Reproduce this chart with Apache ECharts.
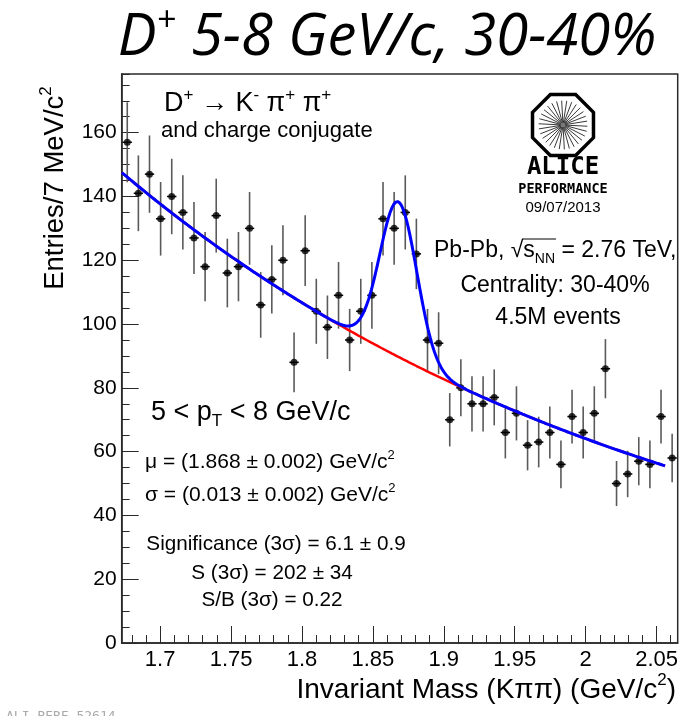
<!DOCTYPE html>
<html>
<head>
<meta charset="utf-8">
<script src="https://cdn.jsdelivr.net/npm/echarts@6/dist/echarts.min.js"></script>
<style>
  html, body { margin: 0; padding: 0; background: #fff; }
  #chart { width: 692px; height: 716px; }
</style>
</head>
<body>
<div id="chart"></div>
<script>
// ---- Histogram: Kpipi invariant mass, 50 bins ----
const histMin = 1.6729;
const histMax = 2.0649;
const binWidth = 0.00784;
const entries = [
  157, 141, 147, 133, 140, 135, 127, 118, 134, 116,
  118, 130, 106, 114, 120,  88, 123, 104,  99, 109,
   95, 104, 109, 133, 130, 135, 122,  95,  94,  70,
   80,  75,  75,  77,  66,  72,  62,  63,  66,  56,
   71,  66,  72,  86,  50,  53,  57,  56,  71,  58
];

// ---- Axis ticks ----
const xTickLabels = [1.7, 1.75, 1.8, 1.85, 1.9, 1.95, 2, 2.05];
const yTickLabels = [0, 20, 40, 60, 80, 100, 120, 140, 160];
const yMax = 178.4;

// ---- Fit: exponential background + Gaussian signal ----
const fitRange = [1.673, 2.056];
const bkgNorm = 147.5;      // background at fitRange[0]
const bkgSlope = -2.55;     // per GeV/c^2
const peakMean = 1.868;     // mu
const peakSigma = 0.013;    // sigma
const signalYield = 202;    // S

// bin centres and Poisson error bars
const centers = entries.map((_, i) => histMin + (i + 0.5) * binWidth);
const points = entries.map((n, i) => [centers[i], n]);
const errBars = entries.map((n, i) => [centers[i], n - Math.sqrt(n), n + Math.sqrt(n)]);

// fit functions evaluated along the fit range
function background(m) { return bkgNorm * Math.exp(bkgSlope * (m - fitRange[0])); }
function signal(m) {
  const amp = signalYield * binWidth / (peakSigma * Math.sqrt(2 * Math.PI));
  const z = (m - peakMean) / peakSigma;
  return amp * Math.exp(-0.5 * z * z);
}
const fitStep = 0.0005;
const totalCurve = [], bkgCurve = [];
for (let m = fitRange[0]; m <= fitRange[1] + 1e-9; m += fitStep) {
  bkgCurve.push([m, background(m)]);
  totalCurve.push([m, background(m) + signal(m)]);
}

const SANS = '"Liberation Sans", Arial, Helvetica, sans-serif';
const frameColor = '#2a2a2a';

// text width helper for placing the radical's overline
const measureCtx = document.createElement('canvas').getContext('2d');
function textWidth(str, size) {
  measureCtx.font = size + 'px ' + SANS;
  return measureCtx.measureText(str).width;
}

function txt(x, y, text, size, opts) {
  opts = opts || {};
  return {
    type: 'text',
    x: x, y: y,
    rotation: opts.rotation || 0,
    z: 100,
    style: {
      text: text,
      fill: opts.color || '#000',
      font: (opts.style || 'normal') + ' ' + (opts.weight || 'normal') + ' ' + size + 'px ' + (opts.family || SANS),
      align: opts.align || 'left',
      verticalAlign: 'middle',
      lineHeight: opts.lineHeight || Math.round(size * 1.25),
      rich: opts.rich || {}
    }
  };
}
function scripts(size, family) {
  const s = Math.round(size * 0.62);
  return {
    sup: { fontSize: s, fontFamily: family || SANS, verticalAlign: 'top', lineHeight: s + 1 },
    sub: { fontSize: s, fontFamily: family || SANS, verticalAlign: 'bottom', lineHeight: s + 1 }
  };
}

// ALICE logo: octagon with radial spokes
function aliceLogo(cx, cy, r) {
  const children = [];
  const oct = [];
  for (let k = 0; k < 8; k++) {
    const a = Math.PI / 8 + k * Math.PI / 4;
    oct.push([cx + r * Math.cos(a), cy + r * Math.sin(a)]);
  }
  children.push({ type: 'polygon', shape: { points: oct }, style: { fill: '#fff', stroke: '#000', lineWidth: 3.5 } });
  const spokes = 30;
  for (let k = 0; k < spokes; k++) {
    const a = k * 2 * Math.PI / spokes + 0.05;
    children.push({
      type: 'line',
      shape: { x1: cx + 2 * Math.cos(a), y1: cy + 2 * Math.sin(a), x2: cx + r * 0.74 * Math.cos(a), y2: cy + r * 0.74 * Math.sin(a) },
      style: { stroke: '#222', lineWidth: 0.9 }
    });
  }
  children.push({ type: 'circle', shape: { cx: cx, cy: cy, r: 2.5 }, style: { fill: '#777' } });
  return { type: 'group', z: 100, children: children };
}

// collision-system line with an overline on the square root
const sysSize = 23, sysSub = Math.round(sysSize * 0.62);
const sysLeft = 434, sysY = 251;
const barStart = sysLeft + textWidth('Pb-Pb, √', sysSize) - 1;
const barEnd = barStart + 1 + textWidth('s', sysSize) + textWidth('NN', sysSub) + 1;

const chart = echarts.init(document.getElementById('chart'));

const graphics = [
  // title
  txt(387, 38, 'D{sup|+} 5-8 GeV/c, 30-40%', 58, {
    align: 'center', style: 'italic', family: '"Open Sans", sans-serif', lineHeight: 68,
    rich: {
      sup: { fontSize: 34, fontStyle: 'italic', fontFamily: '"Open Sans", sans-serif', verticalAlign: 'top', lineHeight: 36 }
    }
  }),
  // axis titles
  txt(55, 188, 'Entries/7 MeV/c{sup|2}', 27.5, { align: 'center', rotation: Math.PI / 2, rich: scripts(27.5), lineHeight: 35 }),
  txt(676, 690, 'Invariant Mass (Kππ) (GeV/c{sup|2})', 28, { align: 'right', rich: scripts(28), lineHeight: 36 }),
  // decay channel
  txt(164, 104, 'D{sup|+} → K{sup|-} π{sup|+} π{sup|+}', 27, { rich: scripts(27), lineHeight: 34 }),
  txt(161, 131, 'and charge conjugate', 22),
  // collision info
  aliceLogo(563, 125, 33),
  txt(563, 168, 'ALICE', 24, { align: 'center', weight: 'bold', family: '"DejaVu Sans Mono", monospace' }),
  txt(563, 189, 'PERFORMANCE', 13.5, { align: 'center', weight: 'bold', family: '"DejaVu Sans Mono", monospace' }),
  txt(563, 208, '09/07/2013', 15, { align: 'center' }),
  txt(sysLeft, sysY, 'Pb-Pb, √s{sub|NN} = 2.76 TeV,', sysSize, { rich: scripts(sysSize), lineHeight: 30 }),
  { type: 'line', z: 100, shape: { x1: barStart, y1: sysY - 12, x2: barEnd, y2: sysY - 12 }, style: { stroke: '#000', lineWidth: 1 } },
  txt(555, 286, 'Centrality: 30-40%', 23, { align: 'center' }),
  txt(558, 318, '4.5M events', 23, { align: 'center' }),
  // fit results
  txt(151, 413, '5 < p{sub|T} < 8 GeV/c', 27, { rich: scripts(27), lineHeight: 34 }),
  txt(145, 462, 'μ = (1.868 ± 0.002) GeV/c{sup|2}', 21, { rich: scripts(21), lineHeight: 27 }),
  txt(145, 495, 'σ = (0.013 ± 0.002) GeV/c{sup|2}', 21, { rich: scripts(21), lineHeight: 27 }),
  txt(276, 544, 'Significance (3σ) = 6.1 ± 0.9', 20.7, { align: 'center' }),
  txt(272, 573, 'S (3σ) = 202 ± 34', 20.7, { align: 'center' }),
  txt(272, 600, 'S/B (3σ) = 0.22', 20.7, { align: 'center' }),
  // figure id at the bottom edge
  txt(6, 717, 'ALI-PERF-52614', 13, { color: '#aaa', family: '"DejaVu Sans Mono", monospace' })
];

const gridBox = { left: 121.7, right: 14.3, top: 74, bottom: 73 };

chart.setOption({
  animation: false,
  backgroundColor: '#fff',
  grid: Object.assign({ show: true, borderColor: frameColor, borderWidth: 1.5, backgroundColor: 'transparent', containLabel: false, outerBoundsMode: 'none' }, gridBox),
  xAxis: [
    {
      type: 'value', min: histMin, max: histMax, minInterval: 0.05, maxInterval: 0.05, splitNumber: 8,
      position: 'bottom',
      axisLine: { show: true, onZero: false, lineStyle: { color: frameColor, width: 1.5 } },
      axisTick: { show: true, inside: true, length: 17, lineStyle: { color: frameColor, width: 1 } },
      axisLabel: {
        show: true, margin: 6, color: '#000', fontSize: 22, fontFamily: SANS,
        showMinLabel: false, showMaxLabel: false,
        formatter: v => xTickLabels.some(t => Math.abs(t - v) < 1e-6) ? String(+v.toFixed(3)) : ''
      },
      splitLine: { show: false }
    },
    {
      type: 'value', min: histMin, max: histMax, minInterval: 0.01, maxInterval: 0.01, splitNumber: 40,
      position: 'bottom',
      axisLine: { show: false },
      axisTick: { show: true, inside: true, length: 8, lineStyle: { color: frameColor, width: 1 } },
      axisLabel: { show: false },
      splitLine: { show: false }
    }
  ],
  yAxis: [
    {
      type: 'value', min: 0, max: yMax, interval: 20,
      position: 'left',
      axisLine: { show: true, onZero: false, lineStyle: { color: frameColor, width: 1.5 } },
      axisTick: { show: true, inside: true, length: 17, lineStyle: { color: frameColor, width: 1 } },
      axisLabel: {
        show: true, margin: 5, color: '#000', fontSize: 21, fontFamily: SANS,
        showMaxLabel: false,
        formatter: v => yTickLabels.indexOf(Math.round(v)) >= 0 && Math.abs(v - Math.round(v)) < 1e-6 ? String(Math.round(v)) : ''
      },
      splitLine: { show: false }
    },
    {
      type: 'value', min: 0, max: yMax, interval: 5,
      position: 'left',
      axisLine: { show: false },
      axisTick: { show: true, inside: true, length: 8, lineStyle: { color: frameColor, width: 1 } },
      axisLabel: { show: false },
      splitLine: { show: false }
    }
  ],
  series: [
    {
      name: 'errors', type: 'custom', data: errBars, z: 2,
      renderItem: function (params, api) {
        const x = api.value(0), lo = api.value(1), hi = api.value(2);
        const mid = (lo + hi) / 2;
        const top = api.coord([x, hi]), bot = api.coord([x, lo]);
        const l = api.coord([x - binWidth * 0.42, mid]), r = api.coord([x + binWidth * 0.42, mid]);
        return {
          type: 'group',
          children: [
            { type: 'line', shape: { x1: top[0], y1: top[1], x2: bot[0], y2: bot[1] }, style: { stroke: '#5a5a5a', lineWidth: 1.6 } },
            { type: 'line', shape: { x1: l[0], y1: l[1], x2: r[0], y2: r[1] }, style: { stroke: '#000', lineWidth: 1.5 } }
          ]
        };
      }
    },
    {
      name: 'entries', type: 'scatter', data: points, z: 3,
      symbol: 'circle', symbolSize: 7,
      itemStyle: { color: '#000' }
    },
    {
      name: 'background', type: 'line', data: bkgCurve, z: 4,
      showSymbol: false, smooth: false,
      lineStyle: { color: '#ff0000', width: 2.5 }
    },
    {
      name: 'total', type: 'line', data: totalCurve, z: 5,
      showSymbol: false, smooth: false,
      lineStyle: { color: '#0000ff', width: 3 }
    }
  ],
  graphic: graphics
});
</script>
</body>
</html>
